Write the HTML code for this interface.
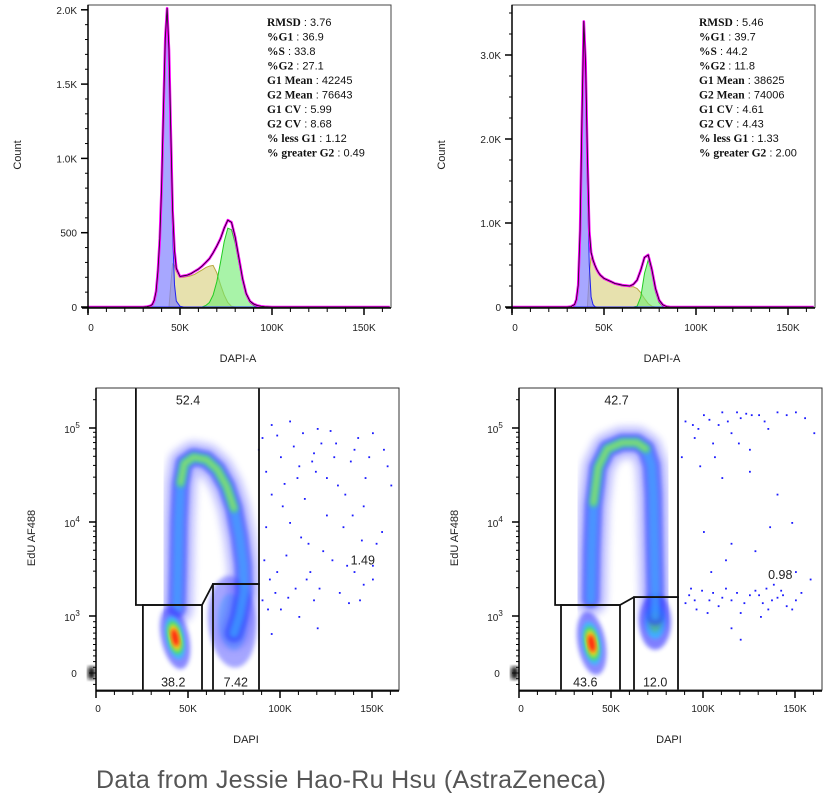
<!DOCTYPE html>
<html><head><meta charset="utf-8"><style>
html,body{margin:0;padding:0;background:#fff;}
svg{display:block;font-family:"Liberation Sans",sans-serif;}
.tk{font-size:10px;fill:#222;}
.st{font-family:"Liberation Serif",serif;font-size:11.5px;fill:#111;}
</style></head><body>
<svg id="fig" width="835" height="800" viewBox="0 0 835 800" xmlns="http://www.w3.org/2000/svg">
<defs>
<filter id="bl" x="-20%" y="-20%" width="140%" height="140%"><feGaussianBlur stdDeviation="2"/></filter>
<filter id="bl2" x="-20%" y="-20%" width="140%" height="140%"><feGaussianBlur stdDeviation="4"/></filter>
<clipPath id="cL"><rect x="96" y="388" width="303" height="302"/></clipPath>
<clipPath id="cR"><rect x="519" y="388" width="303" height="302"/></clipPath>
</defs>
<text x="96" y="788" font-size="25" fill="#555" textLength="510">Data from Jessie Hao-Ru Hsu (AstraZeneca)</text>
</svg>
<script>
// ---- histogram data (DAPI in K, counts) ----
const hx = [30,32,34,35,36,37,38,39,40,41,42,43,44,45,46,47,48,50,52,54,56,58,60,62,64,66,68,70,72,74,76,78,80,82,84,86,88,90,92,94,96,100];
const lTotal = [0,2,8,18,45,105,240,460,810,1310,1810,2010,1730,1180,650,380,260,205,210,215,225,240,255,275,300,325,365,410,460,530,585,570,470,330,190,90,40,20,10,5,2,0];
const lG1 = [0,0,5,15,40,100,230,450,800,1300,1800,2000,1700,1100,500,150,40,5,0,0,0,0,0,0,0,0,0,0,0,0,0,0,0,0,0,0,0,0,0,0,0,0];
const lS = [0,0,0,0,0,0,0,0,0,0,0,0,0,150,290,280,240,200,200,205,210,220,235,250,265,275,280,230,150,80,30,5,0,0,0,0,0,0,0,0,0,0];
const lG2 = [0,0,0,0,0,0,0,0,0,0,0,0,0,0,0,0,0,0,0,0,0,0,0,0,10,30,80,170,300,440,530,520,430,300,170,80,30,10,0,0,0,0];
const rTotal = [0,5,30,90,260,910,2210,3400,2900,1800,900,650,560,500,450,410,380,340,320,300,280,270,260,255,250,270,320,440,590,620,450,220,80,25,5,0,0,0,0,0,0,0];
const rG1 = [0,0,20,80,250,900,2200,3400,2800,1500,500,120,30,5,0,0,0,0,0,0,0,0,0,0,0,0,0,0,0,0,0,0,0,0,0,0,0,0,0,0,0,0];
const rS = [0,0,0,0,0,0,0,0,0,0,400,600,530,480,440,400,370,330,310,290,270,260,250,245,240,240,220,170,100,40,10,0,0,0,0,0,0,0,0,0,0,0];
const rG2 = [0,0,0,0,0,0,0,0,0,0,0,0,0,0,0,0,0,0,0,0,0,0,0,0,0,0,10,120,400,560,420,180,50,10,0,0,0,0,0,0,0,0];
const lStats = [["RMSD","3.76"],["%G1","36.9"],["%S","33.8"],["%G2","27.1"],["G1 Mean","42245"],["G2 Mean","76643"],["G1 CV","5.99"],["G2 CV","8.68"],["% less G1","1.12"],["% greater G2","0.49"]];
const rStats = [["RMSD","5.46"],["%G1","39.7"],["%S","44.2"],["%G2","11.8"],["G1 Mean","38625"],["G2 Mean","74006"],["G1 CV","4.61"],["G2 CV","4.43"],["% less G1","1.33"],["% greater G2","2.00"]];
const xTicks = [0,50,100,150];
const xTickLabels = ["0","50K","100K","150K"];
const lYTicks = [0,500,1000,1500,2000];
const lYLabels = ["0","500","1.0K","1.5K","2.0K"];
const rYTicks = [0,1000,2000,3000];
const rYLabels = ["0","1.0K","2.0K","3.0K"];
// ---- scatter data (DAPI K, EdU) ----
const lArc = [[44,1200],[44.5,3000],[45,10000],[46,25000],[48,42000],[53,49000],[60,46000],[66,36000],[71,24000],[75,14000],[78,7000],[80,3500],[80.5,1800],[78,1000],[75,700]];
const lArcCore = [[46,26000],[48,42000],[53,49000],[60,46000],[66,36000],[71,24000],[75,14000]];
const rArc = [[39,1500],[39.5,5000],[40.5,15000],[43,38000],[48,60000],[56,70000],[64,70000],[69,60000],[72,40000],[73,20000],[73.5,6000],[74,2000],[74,1000]];
const rArcCore = [[40.5,16000],[43,38000],[48,60000],[56,70000],[64,70000],[69,60000]];
const lDots = [[95,110000],[105,120000],[112,90000],[120,100000],[130,70000],[140,60000],[150,90000],[158,40000],[100,50000],[110,40000],[125,30000],[135,20000],[145,15000],[155,8000],[95,20000],[105,10000],[115,6000],[128,4000],[140,3000],[150,2500],[98,3000],[108,2000],[118,1500],[132,1800],[145,2200],[90,1500],[100,1200],[120,800],[95,700],[160,25000],[88,60000],[92,35000],[118,55000],[138,45000],[150,3500],[103,4500],[125,12000],[113,18000],[92,9000],[102,26000],[122,70000],[134,9000],[143,1500],[110,1000],[98,85000],[148,50000],[116,3000],[91,4000],[94,2500],[97,1800],[101,15000],[107,65000],[111,7000],[114,2500],[119,35000],[123,5000],[127,95000],[131,25000],[136,3500],[139,12000],[142,80000],[146,30000],[152,6000],[156,60000],[90,80000],[93,1200],[104,1600],[109,30000],[117,45000],[121,2000],[129,50000],[137,1400],[144,6500]];
const rDots = [[90,120000],[100,140000],[110,150000],[120,130000],[130,140000],[145,140000],[155,130000],[95,80000],[105,70000],[115,90000],[125,60000],[135,100000],[160,90000],[98,40000],[110,30000],[125,35000],[140,20000],[148,10000],[100,8000],[115,6000],[128,5000],[150,3000],[158,2500],[105,1800],[115,1500],[125,1700],[132,1400],[140,1600],[145,1300],[150,1500],[135,1200],[128,1900],[120,1100],[108,1300],[95,1500],[90,1400],[138,2200],[115,800],[120,600],[93,2000],[102,1100],[112,2000],[131,1000],[142,1900],[97,100000],[108,110000],[88,50000],[118,150000],[126,140000],[92,1700],[96,1200],[99,1900],[103,1500],[110,1600],[118,1800],[122,1400],[130,1700],[134,2000],[137,1500],[143,1700],[148,1200],[153,1800],[94,110000],[103,125000],[113,120000],[123,145000],[133,120000],[140,150000],[150,150000],[106,50000],[119,70000],[104,3000],[112,4000],[136,9000]];
const lGates = {g1:[[21.7,3e5],[88.6,3e5],[88.6,2190],[63.6,2190],[57.6,1310],[21.7,1310]], g2:[[25.5,1310],[57.6,1310],[57.6,-2000],[25.5,-2000]], g3:[[63.6,2190],[88.6,2190],[88.6,-2000],[63.6,-2000]]};
const rGates = {g1:[[19.6,3e5],[86.4,3e5],[86.4,1590],[62.5,1590],[54.9,1310],[19.6,1310]], g2:[[22.8,1310],[54.9,1310],[54.9,-2000],[22.8,-2000]], g3:[[62.5,1590],[86.4,1590],[86.4,-2000],[62.5,-2000]]};
const lGateLabels = [["52.4",50,200000],["38.2",42,-150],["7.42",76,-150],["1.49",145,4000]];
const rGateLabels = [["42.7",53,200000],["43.6",36,-150],["12.0",74,-150],["0.98",142,2800]];

const NS="http://www.w3.org/2000/svg";
const fig=document.getElementById('fig');
function mk(tag,attrs,parent){const e=document.createElementNS(NS,tag);for(const k in attrs)e.setAttribute(k,attrs[k]);(parent||fig).appendChild(e);return e;}
function txt(s,attrs,parent){const e=mk('text',attrs,parent);e.textContent=s;return e;}

function histPanel(P){
  const g=mk('g',{});
  
  
  const X=k=>P.x0+k*1.84, Y=v=>P.yz-v*P.ys;
  function area(arr,fill,stroke,nm){
    let d='M'+X(hx[0])+','+Y(0);
    arr.forEach((v,i)=>{d+=' L'+X(hx[i]).toFixed(1)+','+Y(v).toFixed(1);});
    d+=' L'+X(hx[hx.length-1])+','+Y(0)+'Z';
    const p=mk('path',{d:d,fill:fill,stroke:stroke,'stroke-width':1},g);
    
    
  }
  area(P.s,'rgba(215,205,120,0.6)','#b8a840',P.pre+'-s-phase-fill');
  area(P.g2,'rgba(110,235,110,0.6)','#22cc22',P.pre+'-g2-fill');
  area(P.g1,'rgba(130,130,255,0.7)','#2222ee',P.pre+'-g1-fill');
  function line(arr,stroke,w,nm){
    let d='M'+X(P.x0k)+','+Y(0)+' L'+X(hx[0])+','+Y(0);
    arr.forEach((v,i)=>{d+=' L'+X(hx[i]).toFixed(1)+','+Y(v).toFixed(1);});
    d+=' L'+X(164)+','+Y(0);
    const p=mk('path',{d:d,fill:'none',stroke:stroke,'stroke-width':w,'stroke-linejoin':'round'},g);
    
    
  }
  line(P.tot,'#ff00ff',2.6,P.pre+'-total-fit-line');
  line(P.tot,'#111',0.8,P.pre+'-data-line');
  const fr=mk('rect',{x:P.x0,y:5,width:303,height:302.5,fill:'none',stroke:'#444','stroke-width':1},g);
  
  
  mk('line',{x1:P.x0-6,y1:308,x2:P.x0+303,y2:308,stroke:'#000','stroke-width':1.5},g);
  mk('line',{x1:P.x0,y1:5,x2:P.x0,y2:313,stroke:'#000','stroke-width':1.5},g);
  for(let k=0;k<=160;k+=10){mk('line',{x1:X(k),y1:308,x2:X(k),y2:k%50==0?315:312,stroke:'#000','stroke-width':k%50==0?1.5:1},g);}
  xTicks.forEach((k,i)=>{const t=txt(xTickLabels[i],{x:X(k)+(k==0?3:0),y:331,'text-anchor':'middle',class:'tk'},g);
    
    });
  for(let v=0;v<=P.ymax;v+=P.minor){const maj=P.yt.includes(v);mk('line',{x1:P.x0-(maj?7:3),y1:Y(v),x2:P.x0,y2:Y(v),stroke:'#000','stroke-width':maj?1.5:1},g);}
  P.yt.forEach((v,i)=>{const t=txt(P.yl[i],{x:P.x0-11,y:Y(v)+4,'text-anchor':'end',class:'tk'},g);
    
    });
  const yt=txt('Count',{x:0,y:0,transform:'translate('+(P.x0-67)+',155) rotate(-90)','text-anchor':'middle','font-size':11,fill:'#222'},g);
  
  
  const xt=txt('DAPI-A',{x:P.x0+150,y:362,'text-anchor':'middle','font-size':11,fill:'#222'},g);
  
  
  P.stats.forEach((r,i)=>{const t=mk('text',{x:P.sx,y:26+i*14.5,class:'st'},g);
    
    
    const b=mk('tspan',{'font-weight':'bold'},t);b.textContent=r[0];
    const s=mk('tspan',{'font-family':'Liberation Sans, sans-serif','font-size':'11'},t);s.textContent=' : '+r[1];});
}
histPanel({name:'histogram-control',pre:'left-hist',x0:88,x0k:0,yz:307,ys:0.1486,ymax:2000,minor:100,yt:lYTicks,yl:lYLabels,tot:lTotal,g1:lG1,s:lS,g2:lG2,stats:lStats,sx:267});
histPanel({name:'histogram-treated',pre:'right-hist',x0:512,x0k:0,yz:307,ys:0.084,ymax:3500,minor:250,yt:rYTicks,yl:rYLabels,tot:rTotal,g1:rG1,s:rS,g2:rG2,stats:rStats,sx:699});

function scatterPanel(P){
  const g=mk('g',{});
  
  
  const X=k=>P.x0+k*1.84;
  const Y=v=>v>=1000?616-94*Math.log10(v/1000):673-57*(v/1000);
  const c=mk('g',{'clip-path':'url(#'+P.clip+')'},g);
  function pth(pts){return pts.map((p,i)=>(i?'L':'M')+X(p[0]).toFixed(1)+','+Y(p[1]).toFixed(1)).join(' ');}
  function stroke(pts,col,w,op,f,nm){const p=mk('path',{d:pth(pts),fill:'none',stroke:col,'stroke-width':w,'stroke-linecap':'round','stroke-linejoin':'round',opacity:op,filter:f},c);
    
    }
  function blob(b,layers,nm){layers.forEach(l=>{const e=mk('ellipse',{cx:X(b[0]),cy:Y(b[1]),rx:l[0],ry:l[1],fill:l[2],opacity:l[3],filter:'url(#bl)',transform:'rotate('+b[2]+' '+X(b[0])+' '+Y(b[1])+')'},c);
    
    });}
  blob(P.g2b,P.g2l,'g2-population');
  stroke(P.arc,'#4a4aff',32,0.35,'url(#bl2)','s-phase-arc-outer');
  stroke(P.arc,'#2a3cff',18,0.6,'url(#bl)','s-phase-arc');
  stroke(P.arc,'#3aa8ff',9,0.65,'url(#bl)','s-phase-arc-mid');
  stroke(P.core,'#50d880',9,0.75,'url(#bl)','s-phase-arc-core');
  stroke(P.core,'#b8ee50',3.5,0.6,'url(#bl)','s-phase-arc-peak');
  blob(P.g1b,[[14,32,'#3a3aff',0.6],[9,22,'#30c0ff',0.85],[7,17,'#50e060',1],[5,13,'#ffe020',1],[3.5,9,'#ff2010',1]],'g1-population');
  P.dots.forEach(d=>{const e=mk('rect',{x:X(d[0]),y:Y(d[1]),width:1.8,height:1.8,fill:'#1a1aff'},c);
    
    });
  Object.keys(P.gates).forEach(k=>{const pts=P.gates[k];const e=mk('path',{d:pth(pts)+'Z',fill:'none',stroke:'#111','stroke-width':1.8},c);
    
    });
  P.gl.forEach(l=>{const t=txt(l[0],{x:X(l[1]),y:Y(l[2])+5,'text-anchor':'middle','font-size':12.5,fill:'#222'},g);
    
    });
  const fr=mk('rect',{x:P.x0,y:388,width:303,height:302,fill:'none',stroke:'#333','stroke-width':1},g);
  
  
  mk('line',{x1:P.x0,y1:691,x2:P.x0+303,y2:691,stroke:'#000','stroke-width':1.5},g);
  mk('line',{x1:P.x0,y1:388,x2:P.x0,y2:691,stroke:'#000','stroke-width':1.5},g);
  for(let k=0;k<=160;k+=10){mk('line',{x1:X(k),y1:691,x2:X(k),y2:k%50==0?698:695,stroke:'#000','stroke-width':k%50==0?1.5:1},g);}
  xTicks.forEach((k,i)=>{const t=txt(xTickLabels[i],{x:X(k)+(k==0?2:0),y:712,'text-anchor':'middle',class:'tk'},g);
    
    });
  [1e3,1e4,1e5].forEach(v=>{for(let m=1;m<10;m++){const vv=v*m;if(Y(vv)<388)continue;mk('line',{x1:P.x0-(m==1?7:3),y1:Y(vv),x2:P.x0,y2:Y(vv),stroke:'#000','stroke-width':m==1?1.5:1},g);}});
  for(let v=-200;v<1000;v+=100){mk('line',{x1:P.x0-(v==0?7:3),y1:Y(v),x2:P.x0,y2:Y(v),stroke:'#000','stroke-width':1},g);}
  mk('rect',{x:P.x0-8,y:667,width:7,height:12,fill:'#111',filter:'url(#bl)'},g);
  [[3,1e3],[4,1e4],[5,1e5]].forEach(e=>{const t=mk('text',{x:P.x0-24,y:Y(e[1])+5,'text-anchor':'middle',class:'tk'},g);
    
    
    t.textContent='10';const s=mk('tspan',{dy:-5,'font-size':8},t);s.textContent=e[0];});
  const z=txt('0',{x:P.x0-22,y:677,'text-anchor':'middle',class:'tk'},g);
  
  
  const yt=txt('EdU AF488',{x:0,y:0,transform:'translate('+(P.x0-61)+',538) rotate(-90)','text-anchor':'middle','font-size':11,fill:'#222'},g);
  
  
  const xt=txt('DAPI',{x:P.x0+150,y:743,'text-anchor':'middle','font-size':11,fill:'#222'},g);
  
  
}
scatterPanel({name:'scatter-control',x0:96,clip:'cL',arc:lArc,core:lArcCore,dots:lDots,gates:lGates,gl:lGateLabels,
  g1b:[43,620,-12],g2b:[74,900,-5],g2l:[[24,46,'#3a3aff',0.45],[14,28,'#30a0ff',0.4]]});
scatterPanel({name:'scatter-treated',x0:519,clip:'cR',arc:rArc,core:rArcCore,dots:rDots,gates:rGates,gl:rGateLabels,
  g1b:[39.5,520,-10],g2b:[74,900,0],g2l:[[16,28,'#3a3aff',0.65],[10,17,'#30c0ff',0.85],[6,10,'#50e070',0.9]]});
</script>
</body></html>
